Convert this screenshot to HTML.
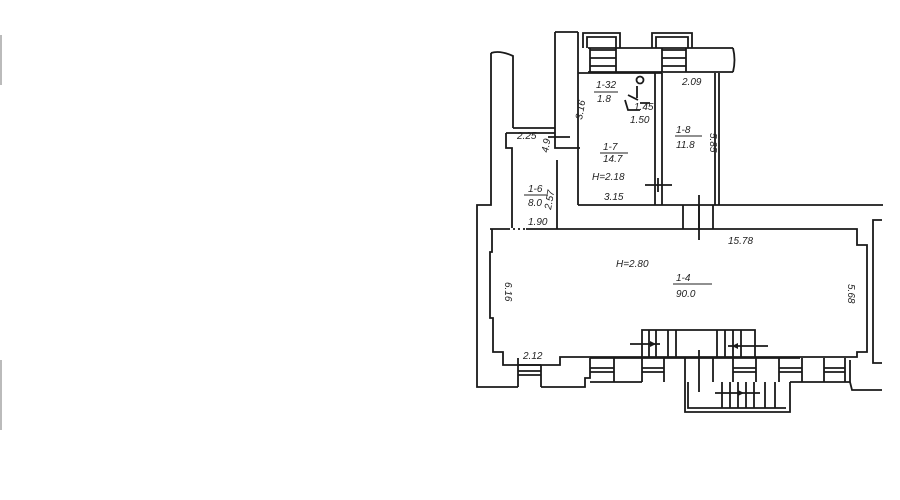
<!DOCTYPE html>
<html><head><meta charset="utf-8"><style>
html,body{margin:0;padding:0;background:#fff;}
svg{display:block}
text{font-family:"Liberation Sans",sans-serif;font-style:italic;font-size:10px;fill:#222}
</style></head><body>
<svg width="900" height="500" viewBox="0 0 900 500" xmlns="http://www.w3.org/2000/svg">
<rect width="900" height="500" fill="#fff"/>
<rect x="0" y="35" width="2" height="50" fill="#bbb"/>
<rect x="0" y="360" width="2" height="70" fill="#bbb"/>
<g fill="none" stroke="#1a1a1a" stroke-width="1.8">
<!-- left outer tall wall -->
<path d="M491,53 L491,205 L477,205 L477,387 L518,387"/>
<path d="M491,53 Q500,50 513,56 L513,128"/>
<!-- 1-6 corridor -->
<path d="M513,128 L555,128 M506,133 L555,133 M506,133 L506,148 L512,148 L512,229"/>
<path d="M555,32 L578,32 M555,32 L555,148 L580,148 M557,160 L557,229 M578,32 L578,205"/>
<path d="M548,137 L570,137"/>
<!-- top wall band -->
<path d="M588,48 L733,48 M588,72 L733,72 M733,48 Q736,60 733,72"/>
<path d="M583,48 L583,33 L620,33 L620,48 M587,48 L587,37 L616,37 L616,48"/>
<path d="M652,48 L652,33 L692,33 L692,48 M656,48 L656,37 L688,37 L688,48"/>
<path d="M590,50 L616,50 M590,58 L616,58 M590,66 L616,66 M662,50 L686,50 M662,58 L686,58 M662,66 L686,66"/>
<path d="M590,48 L590,72 M616,48 L616,72 M662,48 L662,72 M686,48 L686,72"/>
<!-- rooms 1-7, 1-8 -->
<path d="M578,73 L662,73 M578,205 L883,205"/>
<path d="M655,73 L655,205 M662,73 L662,205 M715,73 L715,205 M719,73 L719,205"/>
<path d="M645,185 L672,185 M658,178 L658,192 M699,195 L699,230"/>
<path d="M628,95 L638,100 M625,100 L628,110 L640,110 M640,103 L650,103 M637,86 L637,98"/>
<circle cx="640" cy="80" r="3.5"/>
<!-- corridor to 1-4 -->
<path d="M683,205 L683,229 M713,205 L713,229 M699,205 L699,240"/>
<!-- main hall 1-4 -->
<path d="M490,229 L857,229 L857,245 L867,245 L867,352 L857,352 L857,357 L560,357 L560,365 L503,365 L503,352 L493,352 L493,318 L490,318 L490,252 L492,252 L492,229"/>
<!-- window row -->
<path d="M518,358 L518,387 M518,365 L541,365 M541,365 L541,387 M541,387 L585,387 L585,378 L590,378 L590,358"/>
<path d="M518,371 L541,371 M518,375 L541,375"/>
<path d="M590,358 L800,358 M590,382 L642,382 M790,382 L850,382 M850,382 L850,360"/>
<path d="M614,358 L614,382 M642,358 L642,382 M664,358 L664,382 M685,358 L685,382 M713,358 L713,382 M733,358 L733,382 M756,358 L756,382 M779,358 L779,382 M802,358 L802,382 M824,358 L824,382 M845,358 L845,382"/>
<path d="M590,368 L614,368 M590,372 L614,372 M642,368 L664,368 M642,372 L664,372 M733,368 L756,368 M733,372 L756,372 M779,368 L802,368 M779,372 L802,372 M824,368 L845,368 M824,372 L845,372"/>
<path d="M850,382 L852,390 L882,390"/>
<!-- right wall -->
<path d="M882,220 L873,220 L873,363 L882,363"/>
<!-- stairs top -->
<path d="M642,357 L642,330 L755,330 L755,357"/>
<path d="M649,330 L649,357 M656,330 L656,357 M668,330 L668,357 M676,330 L676,357 M717,330 L717,357 M725,330 L725,357 M733,330 L733,357 M741,330 L741,357"/>
<path d="M630,344 L660,344 M728,346 L768,346 M699,350 L699,392"/>
<!-- stairs bottom -->
<path d="M685,382 L685,412 L790,412 L790,382 M688,382 L688,408 L786,408"/>
<path d="M722,382 L722,408 M730,382 L730,408 M738,382 L738,408 M746,382 L746,408 M754,382 L754,408 M765,382 L765,408 M775,382 L775,408"/>
<path d="M715,393 L760,393"/>
</g>
<g fill="#1a1a1a"><path d="M656,344 l-6,-3 v6z M732,346 l6,-3 v6z M744,393 l-6,-3 v6z"/></g>
<path d="M510,229 L526,229" stroke="#fff" stroke-width="2" stroke-dasharray="3,2"/>
<g>
<text x="596" y="88">1-32</text><path d="M594,92 L618,92" stroke="#222"/><text x="597" y="102">1.8</text>
<text x="634" y="110" font-size="8">1.45</text><text x="630" y="123">1.50</text>
<text x="682" y="85">2.09</text>
<text x="603" y="150">1-7</text><path d="M600,153 L628,153" stroke="#222"/><text x="603" y="162">14.7</text>
<text x="592" y="180">H=2.18</text><text x="604" y="200">3.15</text>
<text x="676" y="133">1-8</text><path d="M675,136 L702,136" stroke="#222"/><text x="676" y="148">11.8</text>
<text transform="translate(710,133) rotate(90)">5.85</text>
<text transform="translate(582,120) rotate(-80)" font-size="8">3.16</text>
<text x="517" y="139" font-size="8">2.25</text>
<text transform="translate(548,153) rotate(-80)" font-size="8">4.9</text>
<text x="528" y="192">1-6</text><path d="M524,195 L548,195" stroke="#222"/><text x="528" y="206">8.0</text>
<text transform="translate(551,210) rotate(-80)" font-size="8">2.57</text>
<text x="528" y="225" font-size="9">1.90</text>
<text x="728" y="244">15.78</text>
<text x="616" y="267">H=2.80</text>
<text x="676" y="281" font-size="12">1-4</text><path d="M673,284 L712,284" stroke="#222"/><text x="676" y="297" font-size="12">90.0</text>
<text transform="translate(505,282) rotate(90)">6.16</text>
<text transform="translate(848,284) rotate(90)">5.68</text>
<text x="523" y="359">2.12</text>
</g>
</svg>
</body></html>
